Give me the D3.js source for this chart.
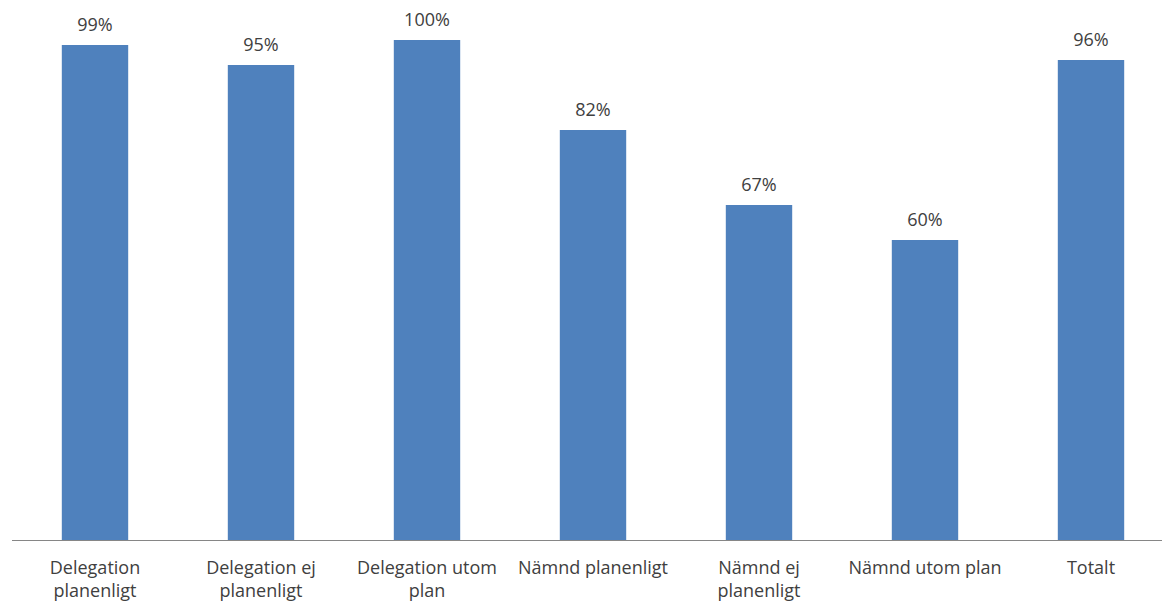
<!DOCTYPE html>
<html>
<head>
<meta charset="utf-8">
<script src="https://cdn.jsdelivr.net/npm/d3@7"></script>
<style>
  html, body { margin: 0; padding: 0; background: #ffffff; }
  svg { display: block; }
  text { font-family: "Open Sans", "Noto Sans", sans-serif; fill: #404040; }
</style>
</head>
<body>
<svg id="chart" width="1165" height="603"></svg>
<script>
// Category names; "\n" marks where a label wraps onto a second line
const categories = [
  "Delegation\nplanenligt",
  "Delegation ej\nplanenligt",
  "Delegation utom\nplan",
  "Nämnd planenligt",
  "Nämnd ej\nplanenligt",
  "Nämnd utom plan",
  "Totalt"
];
// Share per category, in percent
const values = [99, 95, 100, 82, 67, 60, 96];
const valueLabels = ["99%", "95%", "100%", "82%", "67%", "60%", "96%"];

const svg = d3.select("#chart");
const baseY = 540;

const x = d3.scaleBand()
  .domain(categories)
  .range([12, 1174])
  .paddingInner(0.6)
  .paddingOuter(0.3);

const y = d3.scaleLinear()
  .domain([0, 100])
  .range([baseY, 40]);

// Bars
svg.append("g")
  .selectAll("rect")
  .data(values)
  .join("rect")
  .attr("x", (d, i) => x(categories[i]))
  .attr("y", d => y(d))
  .attr("width", x.bandwidth())
  .attr("height", d => baseY - y(d))
  .attr("fill", "#4f81bd");

// Value labels above bars
svg.append("g")
  .selectAll("text")
  .data(values)
  .join("text")
  .attr("x", (d, i) => x(categories[i]) + x.bandwidth() / 2)
  .attr("y", d => y(d) - 14)
  .attr("text-anchor", "middle")
  .attr("font-size", "18px")
  .text((d, i) => valueLabels[i]);

// Category axis line
svg.append("line")
  .attr("x1", 12).attr("x2", 1162)
  .attr("y1", baseY + 0.5).attr("y2", baseY + 0.5)
  .attr("stroke", "#868686")
  .attr("stroke-width", 1);

// Category labels, possibly on two lines
const labels = svg.append("g")
  .selectAll("text")
  .data(categories)
  .join("text")
  .attr("x", d => x(d) + x.bandwidth() / 2)
  .attr("y", 574)
  .attr("text-anchor", "middle")
  .attr("font-size", "18px");

labels.each(function(d) {
  const t = d3.select(this);
  const cx = x(d) + x.bandwidth() / 2;
  d.split("\n").forEach((line, k) => {
    t.append("tspan")
      .attr("x", cx)
      .attr("dy", k === 0 ? 0 : 23)
      .text(line);
  });
});
</script>
</body>
</html>
